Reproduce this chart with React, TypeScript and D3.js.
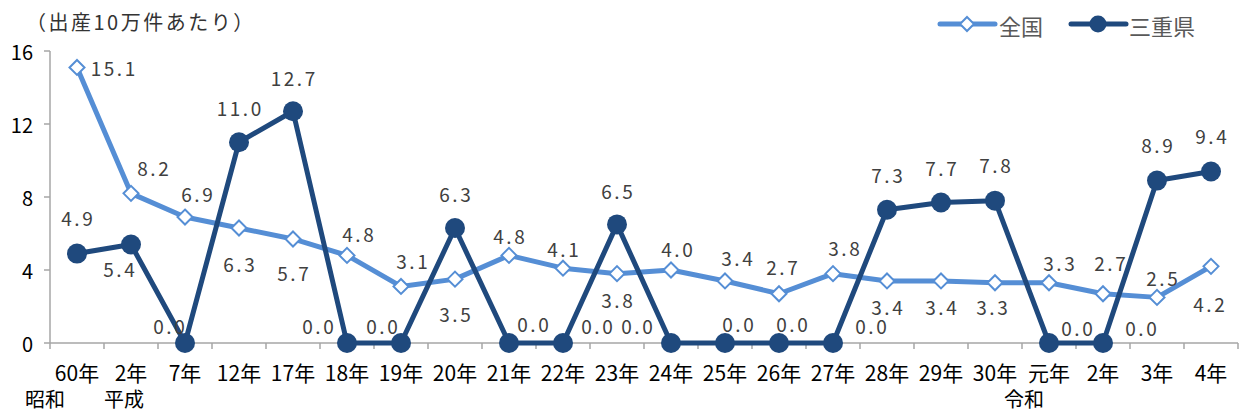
import React from "react";
import * as d3 from "d3";

const categories = ["60年", "2年", "7年", "12年", "17年", "18年", "19年", "20年", "21年", "22年", "23年", "24年", "25年", "26年", "27年", "28年", "29年", "30年", "元年", "2年", "3年", "4年"];
const eraLabels = [
  { index: 0, text: "昭和" },
  { index: 1, text: "平成" },
  { index: 18, text: "令和" },
];
const zenkoku = [15.1, 8.2, 6.9, 6.3, 5.7, 4.8, 3.1, 3.5, 4.8, 4.1, 3.8, 4.0, 3.4, 2.7, 3.8, 3.4, 3.4, 3.3, 3.3, 2.7, 2.5, 4.2];
const mie = [4.9, 5.4, 0.0, 11.0, 12.7, 0.0, 0.0, 6.3, 0.0, 0.0, 6.5, 0.0, 0.0, 0.0, 0.0, 7.3, 7.7, 7.8, 0.0, 0.0, 8.9, 9.4];
const yTicks = [0, 4, 8, 12, 16];

// layout: data-label offsets (dx, dy) in px from each point
const zenkokuLabelOffsets: [number, number][] = [
  [36, 0], [22, -26], [12, -24], [0, 35], [0, 34], [11, -22], [11, -26], [0, 34], [0, -20], [0, -20], [0, 26],
  [6, -22], [12, -23], [3, -27], [11, -26], [0, 26], [0, 26], [-3, 24], [10, -20], [7, -31], [5, -20], [-2, 37],
];
const mieLabelOffsets: [number, number][] = [
  [0, -36], [-12, 24], [-16, -18], [0, -35], [0, -34], [-29, -18], [-19, -18], [0, -35], [24, -20], [34, -18], [0, -34],
  [-34, -18], [13, -20], [13, -20], [38, -18], [0, -35], [0, -35], [0, -36], [28, -16], [38, -16], [0, -36], [0, -36],
];

const W = 1241;
const H = 414;
const left = 50;
const right = 1238;
const top = 51;
const bottom = 343;

const LIGHT = "#558ED5";
const DARK = "#1F497D";
const AXIS = "#A6A6A6";
const FONT = "'Noto Sans CJK JP', 'Noto Sans', sans-serif";

export default function App() {
  const x = d3.scaleBand<number>().domain(d3.range(categories.length)).range([left, right]);
  const cx = (i: number) => (x(i) as number) + x.bandwidth() / 2;
  const y = d3.scaleLinear().domain([0, 16]).range([bottom, top]);
  const line = d3
    .line<number>()
    .x((_, i) => cx(i))
    .y((d) => y(d));

  const diamond = (px: number, py: number, r: number) =>
    `M${px},${py - r}L${px + r},${py}L${px},${py + r}L${px - r},${py}Z`;

  const fmt = d3.format(".1f");
  const LS = 2.5;

  return (
    <svg
      width={W}
      height={H}
      style={{ position: "fixed", left: 0, top: 0, display: "block", background: "#fff" }}
      fontFamily={FONT}
    >
      {/* title */}
      <text x={26} y={21} fontSize={20} fill="#333" dominantBaseline="central" letterSpacing={2.5}>
        （出産10万件あたり）
      </text>

      {/* legend */}
      <g>
        <line x1={940} x2={995} y1={24} y2={24} stroke={LIGHT} strokeWidth={5} strokeLinecap="round" />
        <path d={diamond(967, 24, 7)} fill="#fff" stroke={LIGHT} strokeWidth={2} />
        <text x={999} y={25} fontSize={22} fill="#595959" dominantBaseline="central">全国</text>
        <line x1={1071} x2={1126} y1={24} y2={24} stroke={DARK} strokeWidth={5} strokeLinecap="round" />
        <circle cx={1098} cy={24} r={8.5} fill={DARK} />
        <text x={1129} y={25} fontSize={22} fill="#595959" dominantBaseline="central">三重県</text>
      </g>

      {/* y axis */}
      <line x1={left} x2={left} y1={top} y2={bottom} stroke={AXIS} strokeWidth={1.5} />
      {yTicks.map((t) => (
        <g key={t}>
          <line x1={left - 6} x2={left} y1={y(t)} y2={y(t)} stroke={AXIS} strokeWidth={1.5} />
          <text x={33} y={y(t)} fontSize={20} fill="#000" textAnchor="end" dominantBaseline="central">
            {t}
          </text>
        </g>
      ))}

      {/* x axis */}
      <line x1={left} x2={right} y1={bottom} y2={bottom} stroke={AXIS} strokeWidth={1.5} />
      {d3.range(categories.length + 1).map((i) => {
        const px = i < categories.length ? (x(i) as number) : right;
        return <line key={i} x1={px} x2={px} y1={bottom} y2={bottom + 6} stroke={AXIS} strokeWidth={1.5} />;
      })}
      {categories.map((c, i) => (
        <text key={i} x={cx(i)} y={372} fontSize={21} fill="#000" textAnchor="middle" dominantBaseline="central">
          {c}
        </text>
      ))}
      {eraLabels.map((e) => (
        <text
          key={e.text}
          x={cx(e.index) + (e.index === 0 ? -32 : e.index === 1 ? -7 : -25)}
          y={398}
          fontSize={20}
          fill="#000"
          textAnchor="middle"
          dominantBaseline="central"
        >
          {e.text}
        </text>
      ))}

      {/* 全国 series */}
      <path d={line(zenkoku) || ""} fill="none" stroke={LIGHT} strokeWidth={5} strokeLinejoin="round" />
      {zenkoku.map((v, i) => (
        <path key={i} d={diamond(cx(i), y(v), 7.5)} fill="#fff" stroke={LIGHT} strokeWidth={2} />
      ))}

      {/* 三重県 series */}
      <path d={line(mie) || ""} fill="none" stroke={DARK} strokeWidth={5} strokeLinejoin="round" />
      {mie.map((v, i) => (
        <circle key={i} cx={cx(i)} cy={y(v)} r={10} fill={DARK} />
      ))}

      {/* data labels */}
      {zenkoku.map((v, i) => (
        <text
          key={"z" + i}
          x={cx(i) + zenkokuLabelOffsets[i][0] + LS / 2}
          y={y(v) + zenkokuLabelOffsets[i][1]}
          fontSize={19}
          fill="#404040"
          textAnchor="middle"
          dominantBaseline="central"
          letterSpacing={LS}
        >
          {fmt(v)}
        </text>
      ))}
      {mie.map((v, i) => (
        <text
          key={"m" + i}
          x={cx(i) + mieLabelOffsets[i][0] + LS / 2}
          y={y(v) + mieLabelOffsets[i][1]}
          fontSize={19}
          fill="#404040"
          textAnchor="middle"
          dominantBaseline="central"
          letterSpacing={LS}
        >
          {fmt(v)}
        </text>
      ))}
    </svg>
  );
}
